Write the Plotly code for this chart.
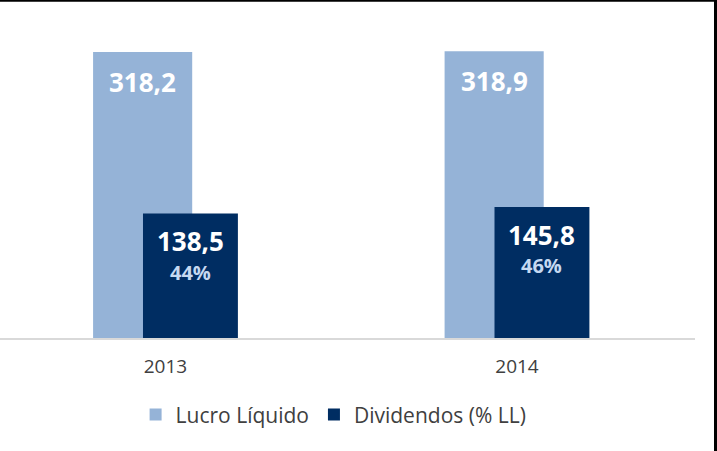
import plotly.graph_objects as go

# data
years = ["2013", "2014"]
lucro = [318.2, 318.9]
dividendos = [138.5, 145.8]
payout = ["44%", "46%"]

LIGHT = "#95B3D7"
DARK = "#002D62"
FONT = "Open Sans"

x_pos = list(range(len(years)))

fig = go.Figure()
fig.add_trace(go.Bar(
    x=x_pos, y=lucro, name="Lucro Líquido",
    marker=dict(color=LIGHT, line=dict(width=0)),
    offset=-0.206, width=0.282,
    hoverinfo="skip",
))
fig.add_trace(go.Bar(
    x=x_pos, y=dividendos, name="Dividendos (% LL)",
    marker=dict(color=DARK, line=dict(width=0)),
    offset=-0.064, width=0.270,
    hoverinfo="skip",
))

# value labels inside the bars
for i, v in enumerate(lucro):
    fig.add_annotation(
        x=i - 0.206 + 0.141, y=v, yshift=-30, showarrow=False,
        text=f"<b>{v:.1f}</b>".replace(".", ","),
        font=dict(family=FONT, size=26, color="white"),
    )
for i, v in enumerate(dividendos):
    fig.add_annotation(
        x=i - 0.064 + 0.135, y=v, yshift=-28, showarrow=False,
        text=f"<b>{v:.1f}</b>".replace(".", ","),
        font=dict(family=FONT, size=26, color="white"),
    )
    fig.add_annotation(
        x=i - 0.064 + 0.135, y=v, yshift=-59, showarrow=False,
        text=f"<b>{payout[i]}</b>",
        font=dict(family=FONT, size=20, color="#C6D9F1"),
    )

# frame lines (top and right edge of the original picture)
fig.add_shape(type="line", xref="paper", yref="paper",
              x0=-0.01, x1=1.035, y0=1.061, y1=1.061,
              line=dict(color="black", width=2.5))
fig.add_shape(type="line", xref="paper", yref="paper",
              x0=1.0295, x1=1.0295, y0=1.07, y1=-0.36,
              line=dict(color="black", width=3))

fig.update_layout(
    width=717, height=451,
    margin=dict(l=0, r=22, t=20, b=113),
    paper_bgcolor="white", plot_bgcolor="white",
    barmode="overlay",
    showlegend=True,
    legend=dict(
        orientation="h", x=0.48, xanchor="center", y=-0.242, yanchor="middle",
        font=dict(family=FONT, size=21, color="#404040"),
        itemwidth=30, traceorder="normal",
    ),
    xaxis=dict(
        range=[-0.4708, 1.5064], tickvals=x_pos, ticktext=years,
        showgrid=False, zeroline=False, showline=True,
        linecolor="#D9D9D9", linewidth=1.5,
        ticks="outside", ticklen=10, tickcolor="rgba(0,0,0,0)",
        tickfont=dict(family=FONT, size=19, color="#404040"),
    ),
    yaxis=dict(
        range=[0, 353.7], showgrid=False, zeroline=False,
        showticklabels=False, showline=False,
    ),
)

fig.write_html("out.html", config={"displayModeBar": False},
               post_script="document.body.style.margin='0';")
